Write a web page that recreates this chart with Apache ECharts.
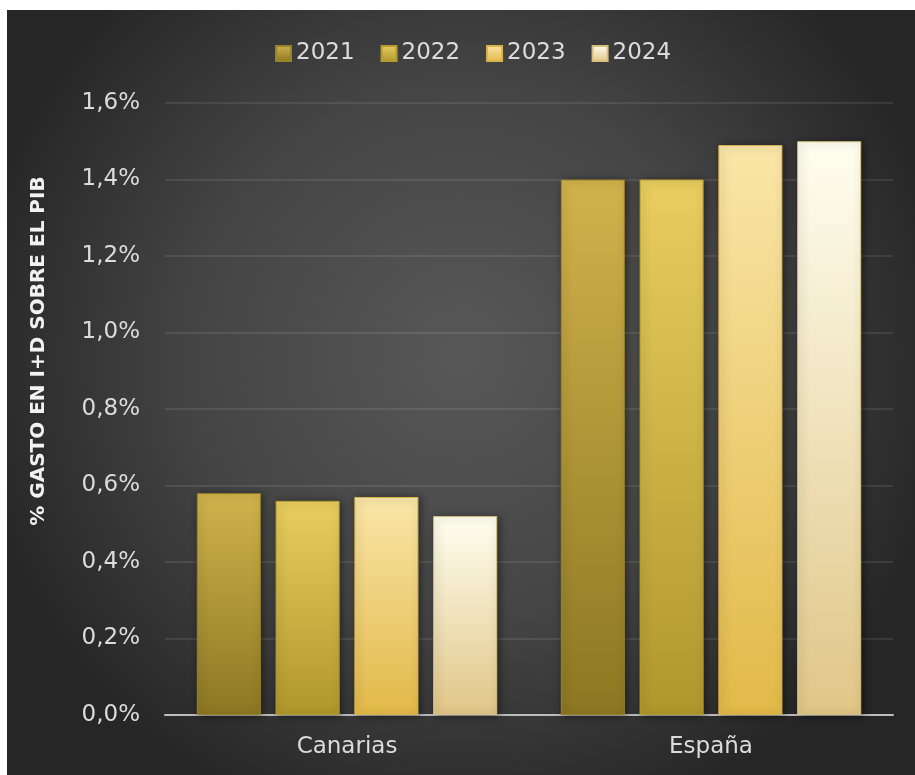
<!DOCTYPE html>
<html><head><meta charset="utf-8">
<script src="https://cdn.jsdelivr.net/npm/echarts@6/dist/echarts.min.js"></script>
<style>html,body{margin:0;padding:0;background:#fff;}#c{position:absolute;left:0;top:0;width:915px;height:775px;}</style>
</head><body><div id="c"></div>
<script>
const categories = ['Canarias', 'España'];
const seriesNames = ['2021', '2022', '2023', '2024'];
const v2021 = [0.58, 1.40];
const v2022 = [0.56, 1.40];
const v2023 = [0.57, 1.49];
const v2024 = [0.52, 1.50];
const yTicks = [0, 0.2, 0.4, 0.6, 0.8, 1.0, 1.2, 1.4, 1.6];
const yTitle = '% GASTO EN I+D SOBRE EL PIB';

const values = [v2021, v2022, v2023, v2024];
const grads = [
  ['#d1b34c', '#8c7722'],
  ['#e9cd5f', '#b0972c'],
  ['#fae6a8', '#e2b948'],
  ['#fffef0', '#e0c687']
];
const borders = ['#9a8226', '#b59c30', '#d9b350', '#d8c07e'];
const font = '"DejaVu Sans", sans-serif';

const chart = echarts.init(document.getElementById('c'));
chart.setOption({
  animation: false,
  graphic: [{
    type: 'rect', z: -10, silent: true,
    shape: { x: 7, y: 10, width: 908, height: 765 },
    style: {
      fill: new echarts.graphic.RadialGradient(0.5, 0.45, 0.65, [
        { offset: 0, color: '#585858' },
        { offset: 0.55, color: '#444444' },
        { offset: 1, color: '#262626' }
      ])
    }
  }, {
    type: 'text', silent: true,
    x: 39, y: 351, rotation: Math.PI / 2,
    style: {
      text: yTitle, fill: '#f2f2f2', font: 'bold 20px "DejaVu Sans", sans-serif',
      align: 'center', verticalAlign: 'middle'
    }
  }],
  legend: {
    top: 37, left: 270,
    itemWidth: 15, itemHeight: 15, itemGap: 26,
    icon: 'rect',
    textStyle: { color: '#dcdcdc', fontSize: 23, fontFamily: font },
    data: seriesNames
  },
  grid: { left: 165, right: 22, top: 103, bottom: 60, containLabel: false },
  xAxis: {
    type: 'category', data: categories,
    axisLine: { lineStyle: { color: '#bdbdbd', width: 2 } },
    axisTick: { show: false },
    axisLabel: { color: '#dcdcdc', fontSize: 23, fontFamily: font, margin: 21 }
  },
  yAxis: {
    type: 'value', min: 0, max: 1.6, interval: 0.2,
    axisLine: { show: false }, axisTick: { show: false },
    axisLabel: {
      color: '#dcdcdc', fontSize: 23, fontFamily: font, margin: 25,
      formatter: v => v.toFixed(1).replace('.', ',') + '%'
    },
    splitLine: { lineStyle: { color: 'rgba(255,255,255,0.09)', width: 2 } }
  },
  series: seriesNames.map((n, i) => ({
    name: n, type: 'bar', data: values[i],
    barWidth: '17.6%', barGap: '23%',
    itemStyle: {
      color: new echarts.graphic.LinearGradient(0, 0, 0, 1, [
        { offset: 0, color: grads[i][0] },
        { offset: 1, color: grads[i][1] }
      ]),
      borderColor: borders[i], borderWidth: 1,
      shadowColor: 'rgba(0,0,0,0.45)', shadowBlur: 8, shadowOffsetX: 2, shadowOffsetY: 1
    }
  }))
});
</script></body></html>
